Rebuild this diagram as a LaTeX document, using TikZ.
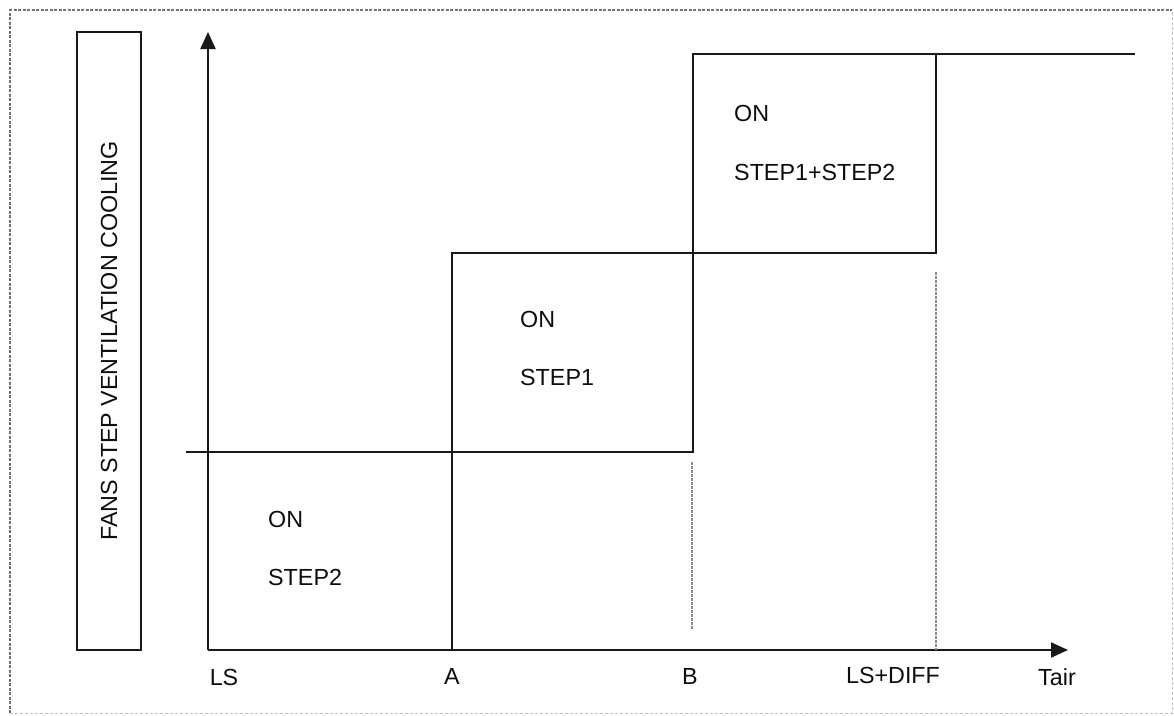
\documentclass[tikz,border=0pt]{standalone}
\usepackage{fontspec}
\setmainfont{Liberation Sans}
\usetikzlibrary{arrows.meta}
\begin{document}
\begin{tikzpicture}[x=1pt,y=-1pt,
  ink/.style={line width=2.2pt,draw=black!90},
  guide/.style={line width=1.2pt,draw=black!45,dash pattern=on 2.5pt off 1.5pt},
  axis/.style={ink,-{Triangle[length=17pt,width=15pt]}},
  lbl/.style={font=\fontsize{23.3}{27}\selectfont,text=black!95,inner sep=0pt},
  frameA/.style={line width=1.6pt,draw=black!55,dash pattern=on 3pt off 1.5pt},
  frameB/.style={line width=1pt,draw=black!25,dash pattern=on 3pt off 2pt}]
  \useasboundingbox (0,0) rectangle (1174,715);

  % outer frame
  \draw[frameA] (10,713) -- (10,10) -- (1172,10);
  \draw[frameB] (10,713) -- (1172,713) -- (1172,10);

  % vertical title box
  \node[ink,draw,rotate=90,minimum width=618pt,minimum height=64pt,lbl] (title)
    at (109,341) {FANS STEP VENTILATION COOLING};

  % axes
  \coordinate (O) at (208,650);
  \coordinate (ytop) at (208,32);
  \coordinate (xend) at (1068,650);
  \draw[axis] (O) -- (ytop);
  \draw[axis] (O) -- (xend);

  % switching thresholds
  \coordinate (a0) at (452,650);
  \coordinate (a1) at (452,253);
  \coordinate (b0) at (186,452);
  \coordinate (b1) at (693,452);
  \coordinate (b2) at (693,54);
  \coordinate (d1) at (936,253);
  \coordinate (d2) at (936,54);
  \coordinate (e2) at (1135,54);

  % step curves
  \draw[ink] (b0) -- (b1) -- (b2) -- (e2);
  \draw[ink] (a0) -- (a1) -- (d1) -- (d2);

  % guide lines
  \coordinate (gb0) at (692,462);
  \coordinate (gb1) at (692,630);
  \coordinate (gd0) at (936,272);
  \coordinate (gd1) at (936,650);
  \draw[guide] (gb0) -- (gb1);
  \draw[guide] (gd0) -- (gd1);

  % region labels
  \node[lbl,anchor=west] (on2) at (268,519) {ON};
  \node[lbl,anchor=west] (st2) at (268,577) {STEP2};
  \node[lbl,anchor=west] (on1) at (520,319) {ON};
  \node[lbl,anchor=west] (st1) at (520,377) {STEP1};
  \node[lbl,anchor=west] (on12) at (734,113) {ON};
  \node[lbl,anchor=west] (st12) at (734,172) {STEP1+STEP2};

  % axis labels
  \node[lbl] (ls) at (224,677) {LS};
  \node[lbl] (la) at (452,676) {A};
  \node[lbl] (lb) at (690,676) {B};
  \node[lbl] (ld) at (893,675) {LS+DIFF};
  \node[lbl] (lt) at (1057,677) {Tair};
\end{tikzpicture}
\end{document}
